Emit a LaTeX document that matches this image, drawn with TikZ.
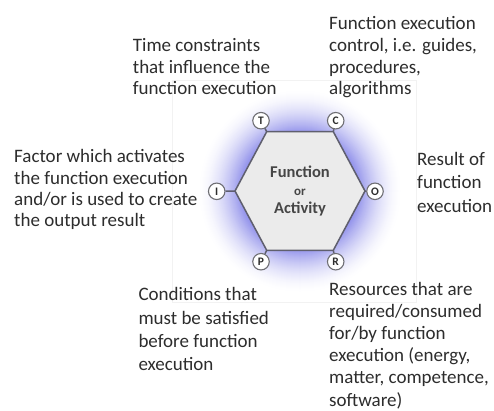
\documentclass[tikz,border=0pt]{standalone}
\usepackage{fontspec}
\setmainfont{Carlito}
\definecolor{txt}{RGB}{45,45,45}
\definecolor{ctxt}{RGB}{70,70,70}
\definecolor{glowc}{RGB}{145,145,235}
\definecolor{hexfill}{RGB}{235,235,235}
\definecolor{hexline}{RGB}{95,95,110}
\definecolor{portline}{RGB}{110,110,115}
\definecolor{frame}{RGB}{242,242,242}
\newcommand{\blocktext}[1]{\begin{tabular}[t]{@{}l@{}}#1\end{tabular}}
\begin{document}
\begin{tikzpicture}[x=1pt,y=-1pt,
  lbl/.style={anchor=base west, inner sep=0pt, text=txt},
  port/.style={circle, draw=portline, fill=white, line width=1.1pt, minimum size=16.5pt, inner sep=0pt, font=\fontsize{11.5}{11.5}\selectfont\bfseries, text=txt},
  stub/.style={draw=hexline, line width=1.5pt}]
\useasboundingbox (0,0) rectangle (494,410);
\fill[white] (0,0) rectangle (494,410);
\draw[frame, line width=0.6pt] (172,80) rectangle (416,302);
\foreach \i in {0,...,44} {
  \pgfmathsetmacro\pc{100*(\i/44)^1.7}
  \fill[glowc!\pc!white] (300,191) circle[radius=(102-\i)*1pt];
}
\draw[fill=hexfill, draw=hexline, line width=1.5pt, line join=round]
  (235,191) coordinate (hl) -- (266.7,131.7) coordinate (htl) -- (333.3,131.7) coordinate (htr)
  -- (365,191) coordinate (hr) -- (333.3,250.3) coordinate (hbr) -- (266.7,250.3) coordinate (hbl) -- cycle;
\node[inner sep=0pt, text=ctxt, font=\fontsize{16.5}{18}\selectfont\bfseries, anchor=base] (fn) at (300,177.3)
  {\begin{tabular}[t]{@{}c@{}}Function\\{\fontsize{13}{18}\selectfont or}\\Activity\end{tabular}};
\node[port] (T) at (261,120.7) {T};
\node[port] (C) at (335.7,120.7) {C};
\node[port] (I) at (216.7,191.3) {I};
\node[port] (O) at (375,191.3) {O};
\node[port] (P) at (261,261.7) {P};
\node[port] (R) at (335.7,261.7) {R};
\draw[stub] (htl) -- (T);
\draw[stub] (htr) -- (C);
\draw[stub] (hl) -- (I);
\draw[stub] (hr) -- (O);
\draw[stub] (hbl) -- (P);
\draw[stub] (hbr) -- (R);
\node[lbl, font=\fontsize{19}{21.7}\selectfont] (tl) at (132.7,51.5) {\blocktext{Time constraints\\that influence the\\function execution}};
\node[lbl, font=\fontsize{19}{21.7}\selectfont] (tr) at (329,29.8) {\blocktext{Function execution\\control, i.e. guides,\\procedures,\\algorithms}};
\node[lbl, font=\fontsize{19}{21.3}\selectfont] (lf) at (14,162.7) {\blocktext{Factor which activates\\the function execution\\and/or is used to create\\the output result}};
\node[lbl, font=\fontsize{19}{23.5}\selectfont] (rt) at (417,165) {\blocktext{Result of\\function\\execution}};
\node[lbl, font=\fontsize{19}{23.3}\selectfont] (bl) at (138.3,300.7) {\blocktext{Conditions that\\must be satisfied\\before function\\execution}};
\node[lbl, font=\fontsize{19}{22.2}\selectfont] (br) at (329,295) {\blocktext{Resources that are\\required/consumed\\for/by function\\execution (energy,\\matter, competence,\\software)}};
\end{tikzpicture}
\end{document}
